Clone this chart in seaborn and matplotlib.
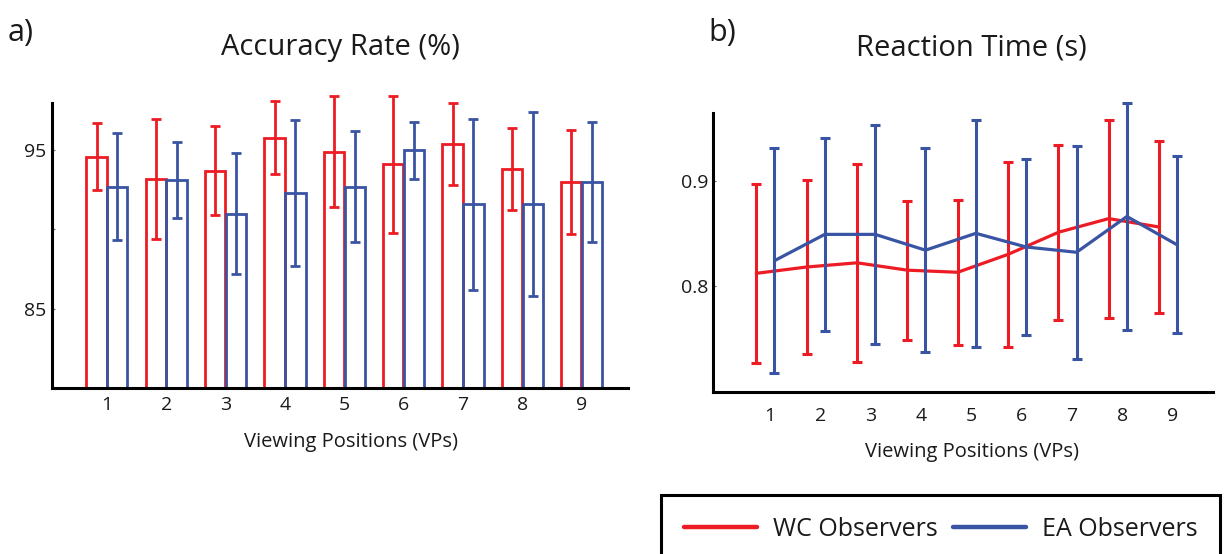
import matplotlib
matplotlib.use("Agg")
import matplotlib.pyplot as plt
from matplotlib.lines import Line2D
from matplotlib.patches import Rectangle
import numpy as np
import pandas as pd
import seaborn as sns

# ---------------- data ----------------
vps = [1, 2, 3, 4, 5, 6, 7, 8, 9]
groups = ["WC Observers", "EA Observers"]

wc_acc = [94.6, 93.2, 93.7, 95.8, 94.9, 94.1, 95.4, 93.8, 93.0]
wc_acc_err = [2.1, 3.8, 2.8, 2.3, 3.5, 4.3, 2.6, 2.6, 3.3]
ea_acc = [92.7, 93.1, 91.0, 92.3, 92.7, 95.0, 91.6, 91.6, 93.0]
ea_acc_err = [3.4, 2.4, 3.8, 4.6, 3.5, 1.8, 5.4, 5.8, 3.8]

wc_rt = [0.812, 0.818, 0.822, 0.815, 0.813, 0.830, 0.851, 0.864, 0.856]
wc_rt_err = [0.085, 0.083, 0.094, 0.066, 0.069, 0.088, 0.083, 0.094, 0.082]
ea_rt = [0.824, 0.849, 0.849, 0.834, 0.850, 0.837, 0.832, 0.866, 0.839]
ea_rt_err = [0.107, 0.092, 0.104, 0.097, 0.108, 0.084, 0.101, 0.108, 0.084]

acc_yticks = [85, 90, 95]
acc_yticklabels = ["85", "", "95"]
rt_yticks = [0.8, 0.9]
rt_yticklabels = ["0.8", "0.9"]

RED = "#ed1c24"
BLUE = "#3a54a4"
palette = {groups[0]: RED, groups[1]: BLUE}
rt_offsets = {groups[0]: -0.27, groups[1]: 0.09}

# ---------------- style ----------------
sns.set_style("ticks")
plt.rcParams["font.family"] = ["Open Sans", "DejaVu Sans"]
TXT = "#1a1a1a"

W, H = 1224, 554
fig = plt.figure(figsize=(W / 100, H / 100), dpi=100)


def px_axes(x0, y0, x1, y1):
    return fig.add_axes([x0 / W, 1 - y1 / H, (x1 - x0) / W, (y1 - y0) / H])


def unclip(container):
    for part in container.lines:
        if part is None:
            continue
        items = part if isinstance(part, (tuple, list)) else [part]
        for a in items:
            a.set_clip_on(False)


ax1 = px_axes(52.3, 102.7, 628, 387.7)
ax2 = px_axes(713, 113.3, 1213, 392.3)

# ---------------- a) accuracy bars ----------------
acc_df = pd.DataFrame({
    "vp": vps * 2,
    "acc": wc_acc + ea_acc,
    "err": wc_acc_err + ea_acc_err,
    "group": [groups[0]] * len(vps) + [groups[1]] * len(vps),
})
sns.barplot(data=acc_df, x="vp", y="acc", hue="group", hue_order=groups,
            palette=palette, native_scale=True, width=0.7, gap=0.02,
            fill=False, errorbar=None, legend=False, linewidth=2.0, ax=ax1)

err_lookup = {(r.vp, r.group): r.err for r in acc_df.itertuples()}
for p in list(ax1.patches):
    h = p.get_height()
    if h <= 0:
        continue
    cx = p.get_x() + p.get_width() / 2
    vp = int(round(cx))
    g = groups[0] if cx < vp else groups[1]
    c = ax1.errorbar(cx, h, yerr=err_lookup[(vp, g)], fmt="none",
                     ecolor=palette[g], elinewidth=2.0, capsize=3.5,
                     capthick=2.0, zorder=3)
    unclip(c)

ax1.set_xlim(0.08, 9.78)
ax1.set_ylim(80, 98)
ax1.set_xticks(vps)
ax1.set_xticklabels([str(v) for v in vps])
ax1.set_yticks(acc_yticks)
ax1.set_yticklabels(acc_yticklabels)
ax1.set_xlabel("")
ax1.set_ylabel("")

# ---------------- b) reaction time lines ----------------
rt_df = pd.DataFrame({
    "vp": vps * 2,
    "rt": wc_rt + ea_rt,
    "err": wc_rt_err + ea_rt_err,
    "group": [groups[0]] * len(vps) + [groups[1]] * len(vps),
})
rt_df["pos"] = rt_df["vp"] + rt_df["group"].map(rt_offsets)

z = 2
for g in groups:
    sub = rt_df[rt_df["group"] == g]
    c = ax2.errorbar(sub["pos"], sub["rt"], yerr=sub["err"], fmt="none",
                     ecolor=palette[g], elinewidth=2.2, capsize=3.3,
                     capthick=2.2, zorder=z)
    unclip(c)
    sns.lineplot(data=sub, x="pos", y="rt", color=palette[g], linewidth=2.3,
                 errorbar=None, ax=ax2, zorder=z + 1)
    z += 2

ax2.set_xlim(-0.13, 9.8)
ax2.set_ylim(0.699, 0.964)
ax2.set_xticks(vps)
ax2.set_xticklabels([str(v) for v in vps])
ax2.set_yticks(rt_yticks)
ax2.set_yticklabels(rt_yticklabels)
ax2.set_xlabel("")
ax2.set_ylabel("")

# ---------------- axes styling ----------------
for ax, xpad, ypad in ((ax1, 6.0, 4.5), (ax2, 10.6, 3.6)):
    sns.despine(ax=ax)
    for s in ("left", "bottom"):
        ax.spines[s].set_linewidth(2.2)
        ax.spines[s].set_color("black")
    ax.tick_params(axis="x", length=0, pad=xpad, labelsize=14, labelcolor=TXT)
    ax.tick_params(axis="y", direction="in", length=2.5, width=0.8,
                   color="#666666", pad=ypad, labelsize=14, labelcolor=TXT)
    ax.set_facecolor("white")

# ---------------- texts ----------------
fig.text(8 / W, 1 - 41 / H, "a)", ha="left", va="baseline", fontsize=22, color=TXT)
fig.text(708 / W, 1 - 41 / H, "b)", ha="left", va="baseline", fontsize=22, color=TXT)
fig.text(340 / W, 1 - 55 / H, "Accuracy Rate (%)", ha="center", va="baseline",
         fontsize=21, color=TXT)
fig.text(971.7 / W, 1 - 55 / H, "Reaction Time (s)", ha="center", va="baseline",
         fontsize=21, color=TXT)
fig.text(350.8 / W, 1 - 446.7 / H, "Viewing Positions (VPs)", ha="center",
         va="baseline", fontsize=14.5, color=TXT)
fig.text(971.7 / W, 1 - 456.5 / H, "Viewing Positions (VPs)", ha="center",
         va="baseline", fontsize=14.5, color=TXT)

# ---------------- legend ----------------
rect = Rectangle((661 / W, 1 - 580 / H), (1220 - 661) / W, (580 - 494.6) / H,
                 transform=fig.transFigure, fill=False, lw=2.2,
                 edgecolor="black", clip_on=False)
fig.add_artist(rect)
handles = [Line2D([0], [0], color=palette[g], lw=3.2) for g in groups]
fig.legend(handles, groups, loc="center left",
           bbox_to_anchor=(683.7 / W, 1 - 529.5 / H), frameon=False,
           ncol=2, fontsize=18, handlelength=2.92, handletextpad=0.64,
           columnspacing=0.62, borderpad=0, borderaxespad=0,
           labelcolor=TXT)

fig.savefig("out.png", dpi=100, facecolor="white")
